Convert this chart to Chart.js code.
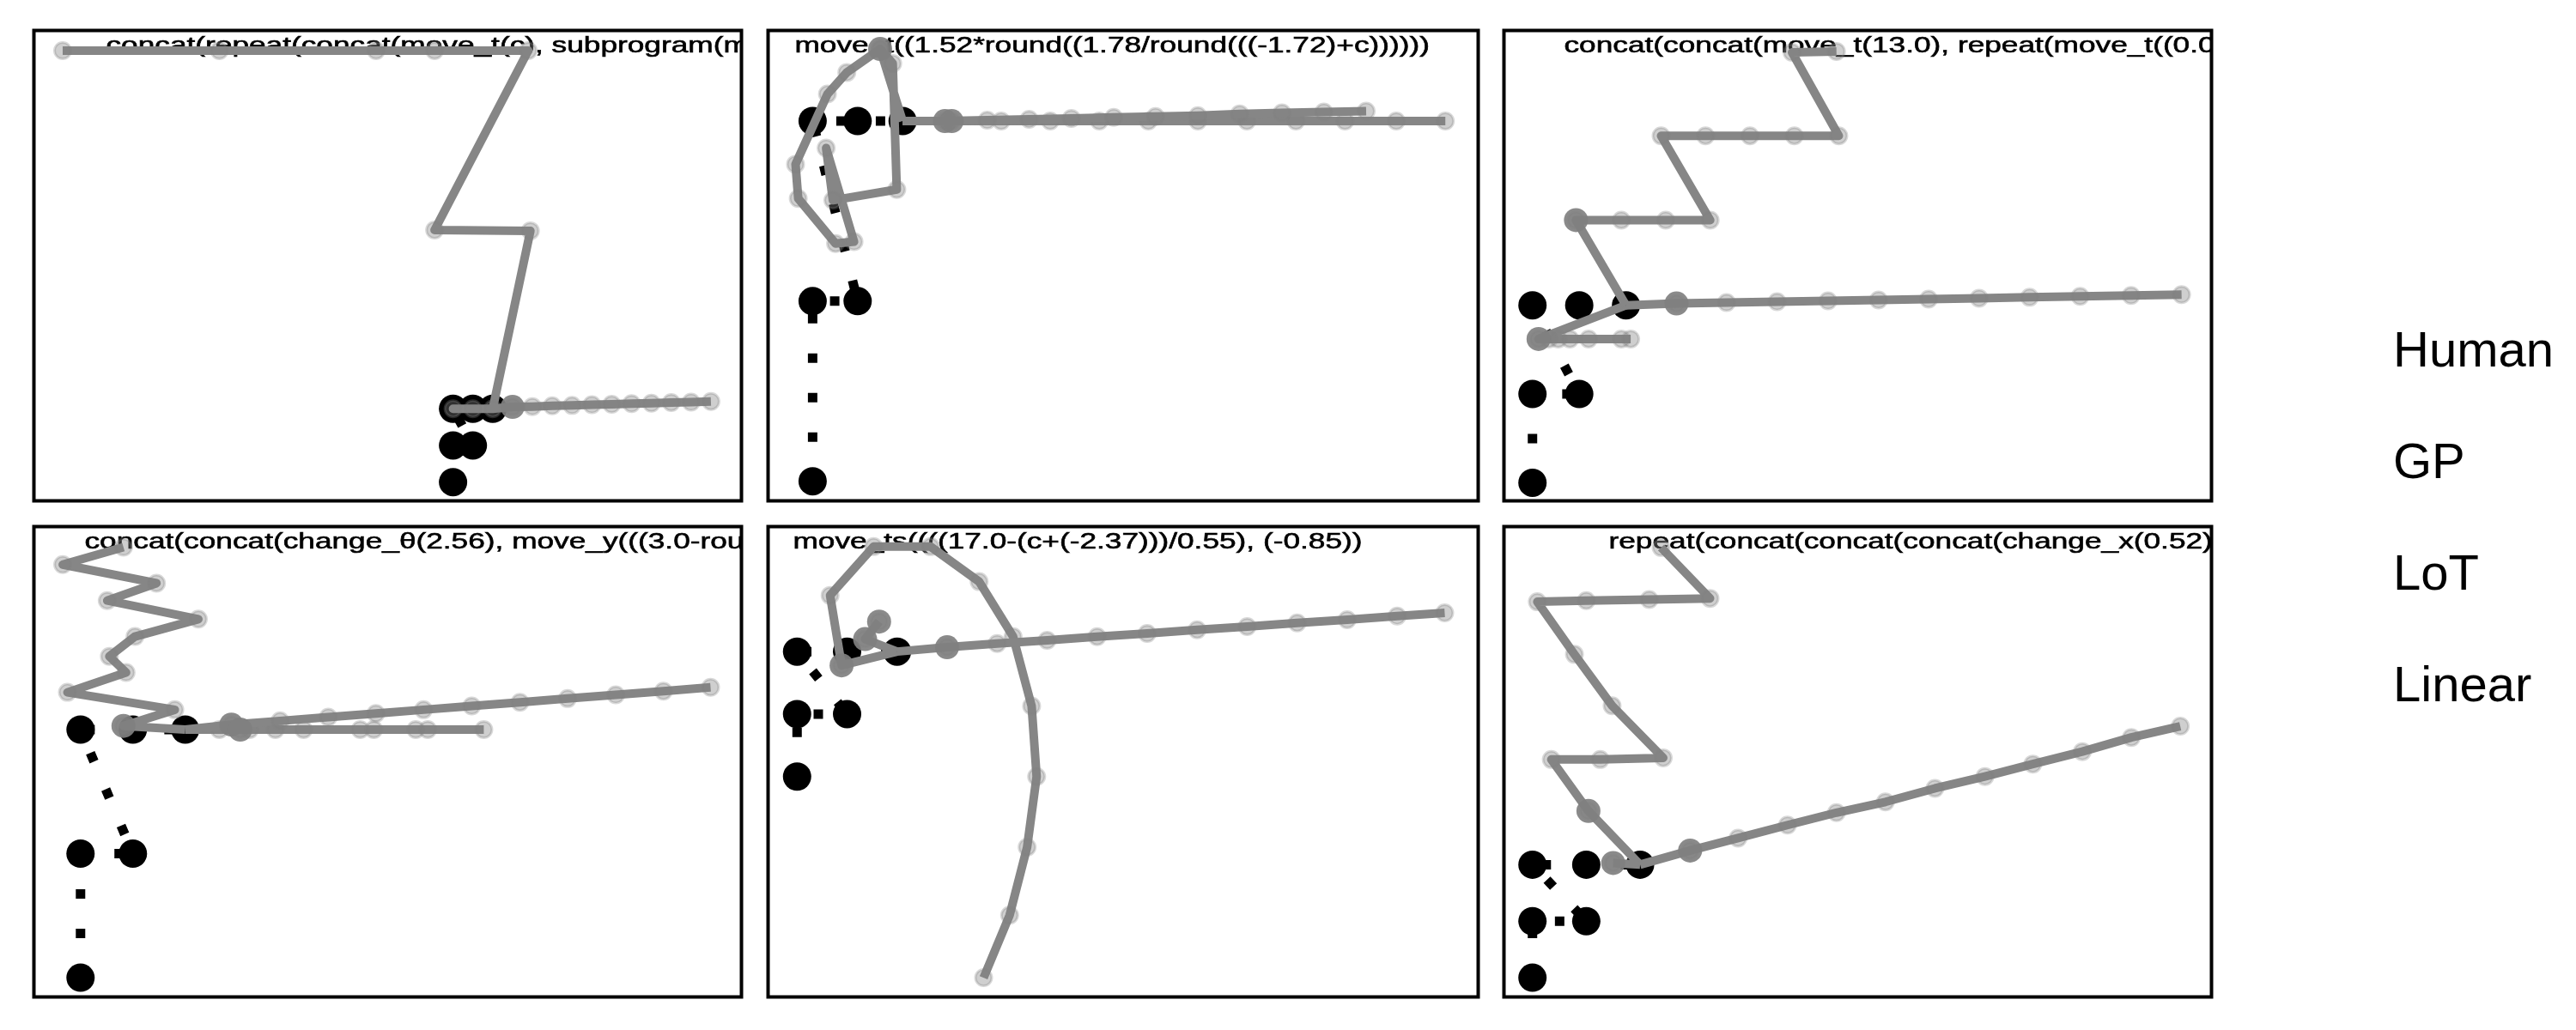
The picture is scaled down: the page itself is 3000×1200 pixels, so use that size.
<!DOCTYPE html>
<html>
<head>
<meta charset="utf-8">
<script src="https://cdn.jsdelivr.net/npm/chart.js@4.4.1/dist/chart.umd.min.js"></script>
<style>
  html, body { margin: 0; padding: 0; background: #ffffff; }
  body { width: 3000px; height: 1200px; position: relative; overflow: hidden; }
  canvas { position: absolute; }
</style>
</head>
<body>
<script>
// ---------------- DATA ----------------
// Human sequence (same 6 observed points in every panel)
const humanX = [0, 0, 1, 0, 1, 2];
const humanY = [0, 1, 1, 2, 2, 2];

const legendLabels = ['Human', 'GP', 'LoT', 'Linear'];

const titles = [
  'concat(repeat(concat(move_t(c), subprogram(mo',
  'move_t((1.52*round((1.78/round(((-1.72)+c))))))',
  'concat(concat(move_t(13.0), repeat(move_t((0.02',
  'concat(concat(change_\u03B8(2.56), move_y(((3.0-roun',
  'move_ts((((17.0-(c+(-2.37)))/0.55), (-0.85))',
  'repeat(concat(concat(concat(change_x(0.52),'
];

// Model predictions (continuing from the last human point)
const p1Flat   = [[0,2],[1,2],[2,2],[3,2.05],[4,2.06],[5,2.08],[6,2.09],[7,2.11],[8,2.12],[9,2.14],[10,2.15],[11,2.17],[12,2.18],[13,2.2]];
const p1Zig    = [[3.9,6.85],[-0.93,6.87],[3.79,11.76],[-0.93,11.76],[-3.88,11.76],[-11.78,11.76],[-19.68,11.76]];
const p1Next   = [[3,2.05]];

const p2Upper  = [[2.94,2.0],[3.88,2.005],[4.81,2.01],[5.75,2.015],[6.69,2.02],[7.62,2.025],[8.56,2.03],[9.49,2.04],[10.43,2.045],[11.36,2.05],[12.3,2.055]];
const p2Lower  = [[3.09,2],[4.19,2],[5.28,2],[6.37,2],[7.46,2],[8.56,2],[9.65,2],[10.74,2],[11.83,2],[12.97,2],[14.06,2]];
const p2Loop   = [[1.50,2.40],[1.78,2.32],[1.87,1.62],[0.45,1.56],[0.30,1.85],[0.92,1.33],[0.51,1.32],[-0.32,1.57],[-0.38,1.76],[0.33,2.15],[0.76,2.27],[1.50,2.40]];
const p2Next   = [[2.94,2.0],[3.09,2.0],[1.50,2.40]];

const p3Flat   = [[3.08,2.02],[4.15,2.03],[5.23,2.04],[6.32,2.05],[7.40,2.06],[8.47,2.07],[9.55,2.08],[10.63,2.09],[11.71,2.10],[12.80,2.11],[13.88,2.12]];
const p3Stairs = [[0.93,2.96],[1.90,2.96],[2.85,2.96],[3.80,2.96],[2.75,3.91],[3.70,3.91],[4.65,3.91],[5.60,3.91],[6.55,3.91],[5.55,4.85],[6.50,4.86]];
const p3Low    = [[0.13,1.62],[0.35,1.62],[0.55,1.62],[0.80,1.62],[1.20,1.62],[1.90,1.62],[2.10,1.62]];
const p3Next   = [[3.08,2.02],[0.93,2.96],[0.13,1.62]];

const p4Long   = [[2.88,2.04],[3.81,2.07],[4.73,2.10],[5.64,2.13],[6.55,2.16],[7.47,2.19],[8.39,2.22],[9.30,2.25],[10.22,2.28],[11.13,2.31],[12.03,2.34]];
const p4Short  = [[2.65,2.0],[3.05,2.0],[3.23,2.0],[3.72,2.0],[4.26,2.0],[5.34,2.0],[5.60,2.0],[6.40,2.0],[6.63,2.0],[7.70,2.0]];
const p4Zig    = [[0.82,2.03],[1.80,2.16],[-0.25,2.30],[0.87,2.46],[0.55,2.59],[1.04,2.75],[2.25,2.89],[0.51,3.04],[1.45,3.18],[-0.34,3.33],[0.82,3.47]];
const p4Next   = [[0.82,2.03],[2.88,2.04],[3.05,2.0]];

const p5Flat   = [[3.0,2.07],[4.0,2.13],[5.0,2.18],[6.0,2.24],[7.0,2.29],[8.0,2.35],[9.0,2.40],[10.0,2.46],[11.0,2.51],[12.0,2.57],[12.95,2.62]];
const p5Curve  = [[0.89,1.78],[0.66,2.90],[1.53,3.68],[2.67,3.68],[3.64,3.12],[4.32,2.24],[4.69,1.13],[4.79,0.0],[4.60,-1.13],[4.25,-2.22],[3.73,-3.22]];
const p5Stub   = [[1.36,2.20],[1.64,2.48]];
const p5Next   = [[0.89,1.78],[3.0,2.07],[1.36,2.20],[1.64,2.48]];

const p6Line   = [[2.93,2.25],[3.82,2.47],[4.74,2.70],[5.65,2.92],[6.56,3.11],[7.48,3.35],[8.41,3.56],[9.30,3.78],[10.22,4.00],[11.13,4.25],[12.04,4.45]];
const p6Zig    = [[1.04,2.95],[0.35,3.86],[1.26,3.86],[2.43,3.89],[1.48,4.81],[0.78,5.72],[0.09,6.65],[1.0,6.67],[2.17,6.69],[3.30,6.71],[2.39,7.61]];
const p6Stub   = [[1.50,2.03]];
const p6Next   = [[2.93,2.25],[1.04,2.95],[1.50,2.03]];

// ---------------- LAYOUT ----------------
const PAD = 4;
const panelBoxes = [
  {l: 27,   t: 23,  w: 849, h: 573},
  {l: 882,  t: 23,  w: 852, h: 573},
  {l: 1739, t: 23,  w: 849, h: 573},
  {l: 27,   t: 601, w: 849, h: 573},
  {l: 882,  t: 601, w: 852, h: 573},
  {l: 1739, t: 601, w: 849, h: 573}
];
const panelRanges = [
  {x: [-21.13, 14.54], y: [-0.51, 12.31]},
  {x: [-0.99, 14.79],  y: [-0.109, 2.503]},
  {x: [-0.61, 14.52],  y: [-0.204, 5.097]},
  {x: [-0.89, 12.62],  y: [-0.155, 3.636]},
  {x: [-0.58, 13.62],  y: [-3.528, 4.001]},
  {x: [-0.53, 12.62],  y: [-0.34, 7.98]}
];
const titleOffsets = [84, 31, 70, 59, 29, 122];

const panelSeries = [
  [p1Flat, p1Zig],
  [p2Upper, p2Lower, p2Loop],
  [p3Flat, p3Stairs, p3Low],
  [p4Long, p4Short, p4Zig],
  [p5Flat, p5Curve, p5Stub],
  [p6Line, p6Zig, p6Stub]
];
const panelNext = [p1Next, p2Next, p3Next, p4Next, p5Next, p6Next];

// ---------------- HELPERS / PLUGINS ----------------
const toPts = arr => arr.map(p => ({x: p[0], y: p[1]}));
const humanPts = humanX.map((x, i) => ({x: x, y: humanY[i]}));
const anchor = humanPts[humanPts.length - 1];

const framePlugin = {
  id: 'frame',
  afterDraw(chart) {
    const {ctx, chartArea: a} = chart;
    ctx.save();
    ctx.strokeStyle = '#000';
    ctx.lineWidth = 4;
    ctx.strokeRect(a.left, a.top, a.right - a.left, a.bottom - a.top);
    ctx.restore();
  }
};

const titlePlugin = {
  id: 'panelTitle',
  beforeDatasetsDraw(chart, args, opts) {
    const {ctx, chartArea: a} = chart;
    ctx.save();
    ctx.beginPath();
    ctx.rect(a.left, a.top, a.right - a.left, a.bottom - a.top);
    ctx.clip();
    ctx.font = '26.5px "Liberation Sans", Arial, Helvetica, sans-serif';
    ctx.fillStyle = '#000';
    ctx.strokeStyle = '#000';
    ctx.lineWidth = 0.6;
    ctx.textBaseline = 'alphabetic';
    ctx.textAlign = 'left';
    ctx.translate(a.left + opts.offset, a.top + 25);
    ctx.scale(1.33, 1);
    ctx.fillText(opts.text, 0, 0);
    ctx.strokeText(opts.text, 0, 0);
    ctx.restore();
  }
};

const legendPlugin = {
  id: 'sideLegend',
  afterDraw(chart, args, opts) {
    const ctx = chart.ctx;
    ctx.save();
    ctx.font = '58px "Liberation Sans", Arial, Helvetica, sans-serif';
    ctx.fillStyle = '#000';
    ctx.textBaseline = 'alphabetic';
    ctx.textAlign = 'left';
    opts.labels.forEach((t, i) => ctx.fillText(t, opts.x, opts.y0 + i * opts.dy));
    ctx.restore();
  }
};

function makeCanvas(left, top, w, h) {
  const c = document.createElement('canvas');
  c.width = w; c.height = h;
  c.style.left = left + 'px'; c.style.top = top + 'px';
  c.style.width = w + 'px'; c.style.height = h + 'px';
  document.body.appendChild(c);
  return c;
}

// ---------------- BUILD PANELS ----------------
panelBoxes.forEach((box, i) => {
  const canvas = makeCanvas(box.l - PAD, box.t - PAD, box.w + 2 * PAD, box.h + 2 * PAD);
  const datasets = [];

  datasets.push({
    label: 'Human',
    data: humanPts,
    showLine: true,
    borderColor: '#000000',
    borderWidth: 11,
    borderDash: [11, 35],
    borderCapStyle: 'butt',
    pointRadius: 16.5,
    pointBackgroundColor: '#000000',
    pointBorderWidth: 0,
    order: 10
  });

  panelSeries[i].forEach((s, k) => {
    datasets.push({
      label: 'model' + k,
      data: [anchor].concat(toPts(s)),
      showLine: true,
      borderColor: '#868686',
      borderWidth: 10,
      borderJoinStyle: 'round',
      borderCapStyle: 'butt',
      tension: 0,
      pointRadius: ctx => (ctx.dataIndex === 0 ? 0 : 9.5),
      pointBackgroundColor: 'rgba(128,128,128,0.38)',
      pointBorderColor: 'rgba(128,128,128,0.3)',
      pointBorderWidth: 3,
      order: 2
    });
  });

  datasets.push({
    label: 'next',
    data: toPts(panelNext[i]),
    showLine: false,
    pointRadius: 14,
    pointBackgroundColor: 'rgba(128,128,128,0.92)',
    pointBorderWidth: 0,
    order: 0
  });

  new Chart(canvas, {
    type: 'scatter',
    data: {datasets: datasets},
    options: {
      responsive: false,
      animation: false,
      devicePixelRatio: 1,
      events: [],
      layout: {padding: PAD},
      plugins: {
        legend: {display: false},
        tooltip: {enabled: false},
        title: {display: false},
        panelTitle: {text: titles[i], offset: titleOffsets[i]}
      },
      scales: {
        x: {type: 'linear', min: panelRanges[i].x[0], max: panelRanges[i].x[1], display: false},
        y: {type: 'linear', min: panelRanges[i].y[0], max: panelRanges[i].y[1], display: false}
      }
    },
    plugins: [titlePlugin, framePlugin]
  });
});

// ---------------- LEGEND ----------------
const legendCanvas = makeCanvas(2700, 300, 300, 600);
new Chart(legendCanvas, {
  type: 'scatter',
  data: {datasets: []},
  options: {
    responsive: false,
    animation: false,
    devicePixelRatio: 1,
    events: [],
    plugins: {
      legend: {display: false},
      tooltip: {enabled: false},
      sideLegend: {labels: legendLabels, x: 87, y0: 126.7, dy: 130}
    },
    scales: {x: {display: false}, y: {display: false}}
  },
  plugins: [legendPlugin]
});
</script>
</body>
</html>
